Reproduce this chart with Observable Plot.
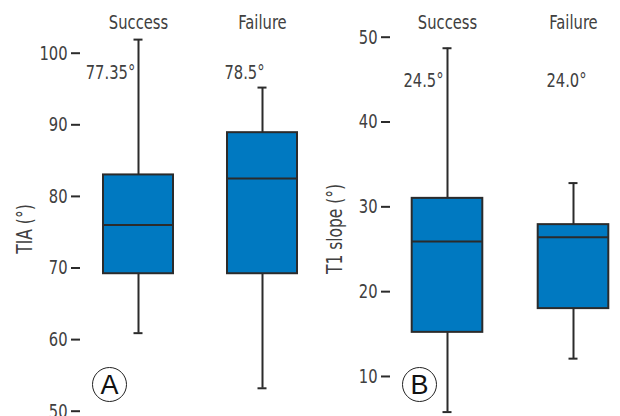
<!DOCTYPE html>
<html>
<head>
<meta charset="utf-8">
<script src="https://cdn.jsdelivr.net/npm/d3@7"></script>
<script src="https://cdn.jsdelivr.net/npm/@observablehq/plot@0.6"></script>
<style>
  body { margin: 0; background: #fff; }
  #wrap { display: flex; width: 620px; height: 416px; overflow: hidden; }
  svg { overflow: visible; }
</style>
</head>
<body>
<div id="wrap"></div>
<script>
// ---- data ----
const groups = ["Success", "Failure"];
// Panel A: TIA (°)
const tiaMin    = [60.9, 53.2];
const tiaQ1     = [69.2, 69.2];
const tiaMedian = [76.0, 82.5];
const tiaQ3     = [83.0, 88.9];
const tiaMax    = [101.9, 95.2];
const tiaLabels = ["77.35°", "78.5°"];
const tiaTicks  = [50, 60, 70, 80, 90, 100];
// Panel B: T1 slope (°)
const t1Min    = [5.8, 12.1];
const t1Q1     = [15.2, 18.0];
const t1Median = [25.9, 26.4];
const t1Q3     = [31.0, 27.9];
const t1Max    = [48.7, 32.8];
const t1Labels = ["24.5°", "24.0°"];
const t1Ticks  = [10, 20, 30, 40, 50];

const FONT = "'DejaVu Sans Condensed', 'DejaVu Sans', sans-serif";
const INK = "#2b2b2b";
const TEXT = "#404040";

function panel({min, q1, med, q3, max, labels, ticks, yDomain, xRange, yLabel, letter, labelPos, boxInset, capInset}) {
  const rows = groups.map((g, i) => ({g, min: min[i], q1: q1[i], med: med[i], q3: q3[i], max: max[i], label: labels[i]}));
  return Plot.plot({
    width: 310, height: 416,
    marginLeft: 80, marginRight: 0, marginTop: 25, marginBottom: 0,
    style: {fontFamily: FONT, fontSize: "20px", color: TEXT, background: "transparent"},
    x: {domain: groups, range: xRange, paddingInner: 0, paddingOuter: 0, axis: null},
    y: {domain: yDomain, ticks},
    marks: [
      Plot.axisY({ticks, tickSize: 9, tickPadding: 4, strokeWidth: 2, stroke: INK, label: null, fontSize: 20, fill: TEXT}),
      Plot.ruleX([0], {frameAnchor: "left", stroke: INK, strokeWidth: 2}),
      Plot.ruleX(rows, {x: "g", y1: "min", y2: "max", stroke: INK, strokeWidth: 2}),
      Plot.tickY(rows, {x: "g", y: "min", stroke: INK, strokeWidth: 2, insetLeft: capInset, insetRight: capInset}),
      Plot.tickY(rows, {x: "g", y: "max", stroke: INK, strokeWidth: 2, insetLeft: capInset, insetRight: capInset}),
      Plot.barY(rows, {x: "g", y1: "q1", y2: "q3", fill: "#0079c1", stroke: INK, strokeWidth: 2, insetLeft: boxInset, insetRight: boxInset}),
      Plot.tickY(rows, {x: "g", y: "med", stroke: INK, strokeWidth: 2, insetLeft: boxInset, insetRight: boxInset}),
      // group names on top
      Plot.text(rows, {x: "g", text: "g", frameAnchor: "top", lineAnchor: "middle", dy: -3, fontSize: 20, fill: TEXT}),
      // annotation values
      ...rows.map((r, i) => Plot.text([r], {x: "g", text: "label", frameAnchor: "top", lineAnchor: "middle", dx: labelPos[i][0], dy: labelPos[i][1], fontSize: 20, fill: TEXT})),
      // y label
      Plot.text([yLabel], {frameAnchor: "left", textAnchor: "middle", lineAnchor: "middle", dx: -55, dy: 8, rotate: -90, fontSize: 21, fill: TEXT}),
      // panel letter
      Plot.dot([letter], {frameAnchor: "bottom-left", dx: 29, dy: -32, r: 17, stroke: "#222", strokeWidth: 1, fill: "white"}),
      Plot.text([letter], {className: "letter", frameAnchor: "bottom-left", textAnchor: "middle", lineAnchor: "middle", dx: 29, dy: -31, fontSize: 27, fill: "#111", fontFamily: "'Liberation Sans', Arial, sans-serif"})
    ]
  });
}

// condense text horizontally (the reference uses a condensed typeface)
function condense(svg, k) {
  svg.querySelectorAll("text").forEach(t => {
    if (t.closest(".letter")) return;
    let tr = t.getAttribute("transform") || "";
    const x = t.getAttribute("x");
    if (x != null && isFinite(+x)) {
      tr += ` translate(${+x},0)`;
      t.removeAttribute("x");
    }
    t.setAttribute("transform", (tr + ` scale(${k},1)`).trim());
  });
  return svg;
}

const wrap = document.getElementById("wrap");
wrap.append(condense(panel({
  min: tiaMin, q1: tiaQ1, med: tiaMedian, q3: tiaQ3, max: tiaMax, labels: tiaLabels, ticks: tiaTicks,
  yDomain: [49.26, 103.87], xRange: [76, 324], yLabel: "TIA (°)", letter: "A",
  labelPos: [[-28, 47], [-18, 47]], boxInset: 27, capInset: 57.5
}), 0.82));
wrap.append(condense(panel({
  min: t1Min, q1: t1Q1, med: t1Median, q3: t1Q3, max: t1Max, labels: t1Labels, ticks: t1Ticks,
  yDomain: [5.28, 51.38], xRange: [74, 326], yLabel: "T1 slope (°)", letter: "B",
  labelPos: [[-24, 55], [-7, 55]], boxInset: 27.7, capInset: 58.5
}), 0.82));
</script>
</body>
</html>
